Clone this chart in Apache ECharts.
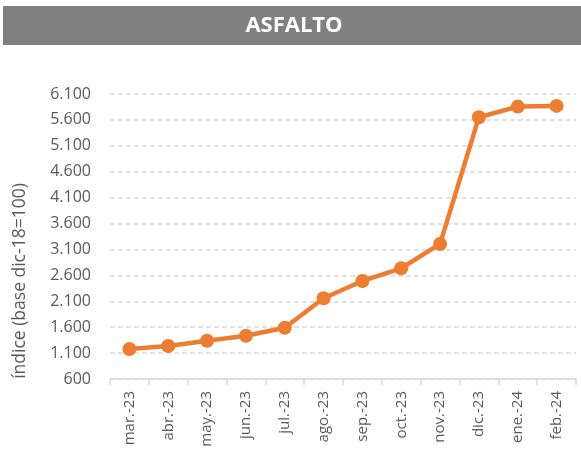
<!DOCTYPE html>
<html><head><meta charset="utf-8">
<script src="https://cdn.jsdelivr.net/npm/echarts@6/dist/echarts.min.js"></script>
<style>html,body{margin:0;padding:0;background:#fff}#c{width:581px;height:459px}</style>
</head><body><div id="c"></div>
<script>
const title = 'ASFALTO';
const yAxisName = 'índice (base dic-18=100)';
const categories = ['mar.-23','abr.-23','may.-23','jun.-23','jul.-23','ago.-23','sep.-23','oct.-23','nov.-23','dic.-23','ene.-24','feb.-24'];
const values = [1180, 1237, 1339, 1436, 1590, 2158, 2492, 2737, 3206, 5652, 5857, 5870];
const yMin = 600, yMax = 6100, yStep = 500;

const chart = echarts.init(document.getElementById('c'), null, {renderer:'canvas'});
const font = '"Open Sans", sans-serif';
chart.setOption({
  animation: false,
  backgroundColor: '#fff',
  graphic: [
    {type:'rect', left:3, top:6, shape:{width:578, height:39}, style:{fill:'#808080'}, z:0},
    {type:'text', x:294, y:26, style:{text:title, fill:'#fff', font:'bold 22px "Open Sans", sans-serif', textAlign:'center', textVerticalAlign:'middle'}},
    {type:'text', x:20, y:281, rotation:Math.PI/2, style:{text:yAxisName, fill:'#595959', font:'17.5px "Open Sans", sans-serif', textAlign:'center', textVerticalAlign:'middle'}}
  ],
  grid: {left:110, right:5, top:94, bottom:80, containLabel:false},
  xAxis: {
    type:'category', data:categories, boundaryGap:true,
    axisLine:{show:true, lineStyle:{color:'#D9D9D9', width:1.5}},
    axisTick:{show:true, length:6, lineStyle:{color:'#D9D9D9', width:1.5}},
    axisLabel:{rotate:90, color:'#595959', fontFamily:font, fontSize:15, margin:12, interval:0}
  },
  yAxis: {
    type:'value', min:yMin, max:yMax, interval:yStep,
    axisLine:{show:false}, axisTick:{show:false},
    splitLine:{show:true, lineStyle:{color:'#D9D9D9', type:[5,3], width:1.5}},
    axisLabel:{color:'#595959', fontFamily:font, fontSize:16, margin:19,
      formatter: v => v.toLocaleString('de-DE')}
  },
  series: [{
    type:'line', data:values,
    lineStyle:{color:'#ED7D31', width:4.5},
    itemStyle:{color:'#ED7D31'},
    symbol:'circle', symbolSize:14, showSymbol:true
  }]
});
</script></body></html>
